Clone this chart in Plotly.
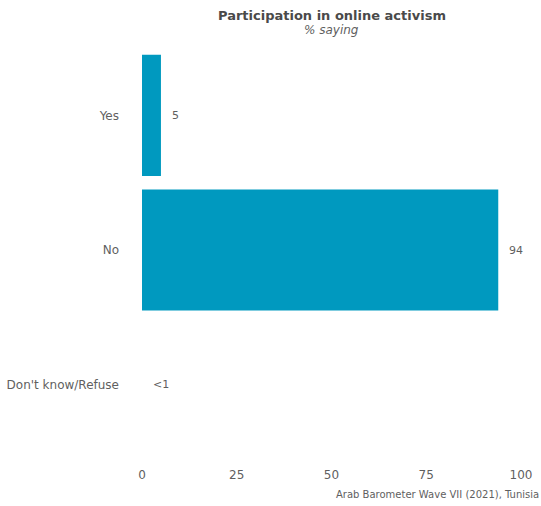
import plotly.graph_objects as go

categories = ["Yes", "No", "Don't know/Refuse"]
values = [5, 94, 0]
labels = ["5", "94", "<1"]
x_ticks = [0, 25, 50, 75, 100]

FONT = "DejaVu Sans"
BAR = "#0099BF"
GREY = "#5f5f5f"

fig = go.Figure()
fig.add_trace(go.Bar(
    x=values, y=categories, orientation="h",
    marker=dict(color=BAR, line=dict(width=0)),
    hoverinfo="skip",
))

for c, v, t in zip(categories, values, labels):
    fig.add_annotation(x=v, y=c, text=t, showarrow=False, xanchor="left",
                       xshift=9, font=dict(family=FONT, size=11, color=GREY))

fig.add_annotation(text="<b>Participation in online activism</b>", xref="paper", yref="paper",
                   x=0.5, y=1, yshift=23, yanchor="bottom", showarrow=False,
                   font=dict(family=FONT, size=13, color="#4a4a4a"))
fig.add_annotation(text="<i>% saying</i>", xref="paper", yref="paper",
                   x=0.5, y=1, yshift=9, yanchor="bottom", showarrow=False,
                   font=dict(family=FONT, size=12, color=GREY))
fig.add_annotation(text="Arab Barometer Wave VII (2021), Tunisia", xref="paper", yref="paper",
                   x=1, xanchor="right", xshift=20, y=0, yshift=-50, yanchor="bottom",
                   showarrow=False, font=dict(family=FONT, size=10, color=GREY))

fig.update_layout(
    width=541, height=506,
    margin=dict(l=142, r=20, t=48, b=54, autoexpand=False),
    paper_bgcolor="white", plot_bgcolor="white",
    bargap=0.1, showlegend=False,
    font=dict(family=FONT, color=GREY, size=12),
)
fig.update_xaxes(range=[0, 100], tickvals=x_ticks, showgrid=False, zeroline=False,
                 showline=False, ticks="", automargin=False, ticklabelstandoff=14,
                 tickfont=dict(size=12, color=GREY))
fig.update_yaxes(categoryorder="array", categoryarray=categories[::-1], showgrid=False,
                 zeroline=False, showline=False, ticks="", ticklabelstandoff=22,
                 automargin=False, tickfont=dict(size=12, color=GREY))

fig.write_html("out.html", config={"displayModeBar": False},
               post_script="document.body.style.margin='0';")
